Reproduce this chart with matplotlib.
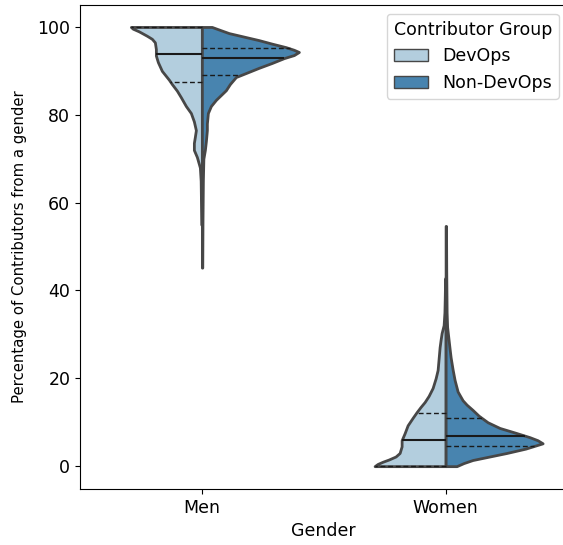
import numpy as np
import matplotlib
matplotlib.use("Agg")
import matplotlib.pyplot as plt
from matplotlib.patches import Patch
import seaborn as sns

# ---------------- data ----------------
genders = ["Men", "Women"]
groups = ["DevOps", "Non-DevOps"]

# KDE profile of each half-violin: value (%) and relative density
men_devops_y = [55, 60, 65, 68, 70.4, 72, 73.6, 75, 76.5, 78.5, 80.4, 82, 84, 85.5, 87, 88,
                90, 92, 93.5, 95, 96.5, 97.3, 98, 99, 99.6, 100]
men_devops_d = [0.6, 0.9, 1.2, 2, 5, 8, 8, 7, 6, 8, 11, 16, 21, 25, 30, 33,
                40, 44, 46, 46, 47, 50, 55, 63, 69, 71]

men_nondevops_y = [45.2, 55, 65, 70, 72, 74, 76.5, 78, 80.4, 82, 83.4, 84.5, 85.6, 87, 88.6,
                   89.6, 90.7, 91.8, 92.9, 93.6, 94.3, 94.8, 95.4, 96.2, 97.0, 97.8, 98.6, 99.5, 100]
men_nondevops_d = [0.4, 0.6, 1, 1.5, 3, 4, 5, 5, 6, 9, 14, 19, 24, 28, 34,
                   45, 57, 70, 82, 92, 97, 92, 84, 70, 57, 42, 27, 16, 10]

women_devops_y = [0, 0.5, 1.0, 1.5, 2.2, 3.0, 4.5, 5.9, 7.5, 9.3, 11, 12.3, 13.5, 14.6, 16,
                  17.8, 20, 21.9, 24.5, 27.1, 28.8, 30.3, 32.1, 35, 38, 42.8]
women_devops_d = [71, 68, 63, 57, 50, 46, 44, 44, 41, 38, 33, 29, 25, 21, 17,
                  13, 10, 8, 7, 6, 5, 4, 2, 1.2, 0.9, 0.5]

women_nondevops_y = [0, 0.7, 1.4, 2.2, 3.0, 4.0, 5.2, 5.9, 6.6, 7.6, 8.7, 10, 11.5, 12.8, 14,
                     15, 17, 19.6, 22, 24.8, 26.7, 28.7, 31.7, 35, 40, 45, 50, 54.7]
women_nondevops_d = [11, 18, 27, 44, 61, 80, 97, 92, 84, 70, 54, 42, 33, 27, 21,
                     17, 12, 9, 7, 5, 4, 3, 1.5, 1, 0.8, 0.6, 0.5, 0.4]

# quartiles (Q1, median, Q3)
men_devops_q = [87.5, 93.8, 100.0]
men_nondevops_q = [89.0, 92.9, 95.1]
women_devops_q = [0.0, 5.9, 12.2]
women_nondevops_q = [4.6, 6.9, 10.9]

# ---------------- style ----------------
W, H = 563, 545
fig = plt.figure(figsize=(W / 100, H / 100), dpi=100)
ax = fig.add_axes([80 / W, 56 / H, (567.5 - 80) / W, 484 / H])

pal = sns.color_palette("Blues", 2)
colors = [sns.desaturate(c, 0.75) for c in pal]
edge = "#474747"
HALF = 0.398  # half-width (x units) for the largest density
FS = 12.5

halves = [
    (0, "low", men_devops_y, men_devops_d, men_devops_q, colors[0]),
    (0, "high", men_nondevops_y, men_nondevops_d, men_nondevops_q, colors[1]),
    (1, "low", women_devops_y, women_devops_d, women_devops_q, colors[0]),
    (1, "high", women_nondevops_y, women_nondevops_d, women_nondevops_q, colors[1]),
]

for pos, side, ys, ds, qs, col in halves:
    ys = np.asarray(ys, float)
    ds = np.asarray(ds, float)
    dmax = ds.max()
    stats = [dict(coords=ys, vals=ds, mean=np.mean(ys), median=qs[1],
                  min=ys.min(), max=ys.max())]
    parts = ax.violin(stats, positions=[pos], widths=[2 * HALF * dmax / 97.0],
                      showmeans=False, showextrema=False, showmedians=False,
                      side=side)
    for b in parts["bodies"]:
        b.set_facecolor(col)
        b.set_edgecolor(edge)
        b.set_linewidth(2)
        b.set_alpha(1)
        b.set_zorder(2)
        b.set_joinstyle("round")
    sign = -1 if side == "low" else 1
    for i, q in enumerate(qs):
        w = np.interp(q, ys, ds) / 97.0 * HALF
        if i == 1:
            ax.plot([pos, pos + sign * w], [q, q], color="#1a1a1a", lw=1.5,
                    solid_capstyle="butt", zorder=3)
        else:
            ax.plot([pos, pos + sign * w], [q, q], color="#1a1a1a", lw=1,
                    ls=(0, (3.5, 2)), zorder=3)

ax.set_xlim(-0.5, 1.5)
ax.set_ylim(-5.2, 105)
ax.set_xticks([0, 1])
ax.set_xticklabels(genders)
ax.set_yticks([0, 20, 40, 60, 80, 100])
ax.tick_params(labelsize=FS)
ax.set_xlabel("Gender", fontsize=FS)
ax.set_ylabel("Percentage of Contributors from a gender", fontsize=10.7, labelpad=7.5)

handles = [Patch(facecolor=colors[0], edgecolor=edge, label=groups[0]),
           Patch(facecolor=colors[1], edgecolor=edge, label=groups[1])]
ax.legend(handles=handles, title="Contributor Group", loc="upper right",
          fontsize=FS, title_fontsize=FS)

fig.savefig("out.png", dpi=100)
